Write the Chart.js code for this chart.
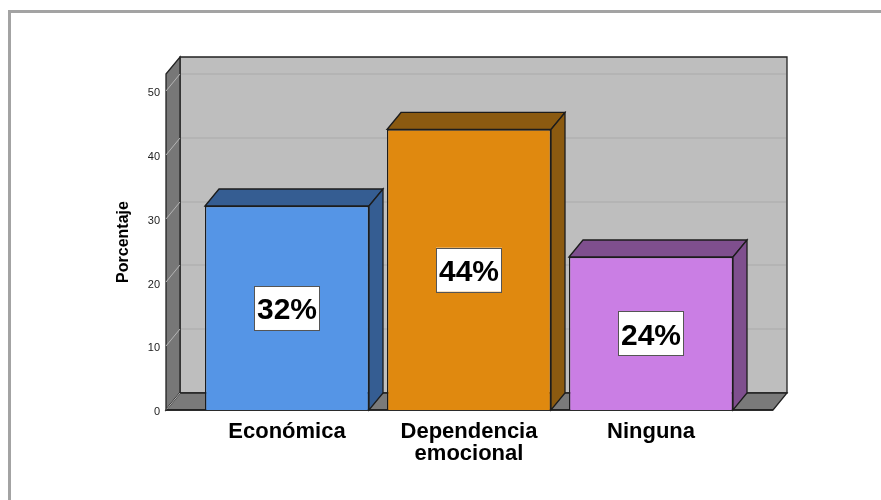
<!DOCTYPE html>
<html>
<head>
<meta charset="utf-8">
<style>html,body{margin:0;padding:0;background:#fff}canvas{display:block}</style>
<script src="https://cdn.jsdelivr.net/npm/chart.js@4"></script>
</head>
<body>
<canvas id="c" width="881" height="500"></canvas>
<script>
const categories = ['Económica', ['Dependencia', 'emocional'], 'Ninguna'];
const values = [32, 44, 24];
const valueLabels = ['32%', '44%', '24%'];
const frontColors = ['#5595e6', '#e0890f', '#ca7ee4'];
const sideColors = ['#355d92', '#8b5a10', '#7f4f8e'];
const yMax = 52.7;
const depthX = 14, depthY = 17, wallL = 30, wallR = 31;
const edge = '#1c1c1c';

function poly(ctx, pts, fill, stroke, lw) {
  ctx.beginPath();
  pts.forEach((p, i) => i ? ctx.lineTo(p[0], p[1]) : ctx.moveTo(p[0], p[1]));
  ctx.closePath();
  ctx.fillStyle = fill; ctx.fill();
  if (stroke) { ctx.strokeStyle = stroke; ctx.lineWidth = lw; ctx.stroke(); }
}

const scene = {
  id: 'scene',
  beforeDraw(chart) {
    const { ctx, chartArea: a, scales: { y } } = chart;
    const L = a.left - wallL, R = a.right + wallR, T = a.top, B = a.bottom;
    ctx.save();
    ctx.fillStyle = '#a3a3a3';
    ctx.fillRect(8, 10, 873, 3);
    ctx.fillRect(8, 10, 3, 490);
    poly(ctx, [[L + depthX, T - depthY], [R + depthX, T - depthY], [R + depthX, B - depthY], [L + depthX, B - depthY]], '#bebebe', '#222', 1.3);
    poly(ctx, [[L, T], [L + depthX, T - depthY], [L + depthX, B - depthY], [L, B]], '#777777', '#222', 1.3);
    poly(ctx, [[L, B], [L + depthX, B - depthY], [R + depthX, B - depthY], [R, B]], '#7a7a7a', '#222', 1.3);
    y.ticks.forEach(t => {
      const py = Math.round(y.getPixelForValue(t.value));
      if (t.value > 0) {
        ctx.strokeStyle = '#b0b0b0'; ctx.lineWidth = 1.5;
        ctx.beginPath(); ctx.moveTo(L + depthX + 1, py - depthY); ctx.lineTo(R + depthX - 1, py - depthY); ctx.stroke();
      }
      ctx.strokeStyle = '#b4b4b4'; ctx.lineWidth = 1;
      ctx.beginPath(); ctx.moveTo(L, py); ctx.lineTo(L + depthX, py - depthY); ctx.stroke();
    });
    ctx.strokeStyle = edge; ctx.lineWidth = 1.5;
    ctx.beginPath(); ctx.moveTo(L, B); ctx.lineTo(R, B); ctx.stroke();
    ctx.restore();
  },
  beforeDatasetsDraw(chart) {
    const { ctx } = chart;
    ctx.save();
    chart.getDatasetMeta(0).data.forEach((el, i) => {
      const l = el.x - el.width / 2, r = el.x + el.width / 2, t = el.y, b = el.base;
      poly(ctx, [[l, t], [l + depthX, t - depthY], [r + depthX, t - depthY], [r, t]], sideColors[i], edge, 1.3);
      poly(ctx, [[r, t], [r + depthX, t - depthY], [r + depthX, b - depthY], [r, b]], sideColors[i], edge, 1.3);
    });
    ctx.restore();
  },
  afterDatasetsDraw(chart) {
    const { ctx } = chart;
    ctx.save();
    ctx.font = 'bold 30px "Liberation Sans", Arial, sans-serif';
    ctx.textAlign = 'center';
    ctx.textBaseline = 'middle';
    chart.getDatasetMeta(0).data.forEach((el, i) => {
      const cx = el.x, cy = (el.y + el.base) / 2;
      ctx.fillStyle = '#ffffff';
      ctx.fillRect(cx - 33, cy - 22, 66, 44);
      ctx.strokeStyle = '#555'; ctx.lineWidth = 1;
      ctx.strokeRect(Math.round(cx - 33) + .5, Math.round(cy - 22) + .5, 65, 44);
      ctx.fillStyle = '#000';
      ctx.fillText(valueLabels[i], cx, cy + 3);
    });
    ctx.restore();
  }
};

new Chart(document.getElementById('c'), {
  type: 'bar',
  data: {
    labels: categories,
    datasets: [{
      label: 'Porcentaje',
      data: values,
      backgroundColor: frontColors,
      borderColor: edge,
      borderWidth: 1.3,
      barPercentage: 164 / 182,
      categoryPercentage: 1
    }]
  },
  options: {
    responsive: false,
    animation: false,
    layout: { padding: { left: 96, right: 139, top: 74, bottom: 20 } },
    plugins: { legend: { display: false }, tooltip: { enabled: false } },
    scales: {
      x: {
        afterFit(s) { s.height = 70; },
        grid: { display: false, drawTicks: false },
        border: { display: false },
        ticks: {
          autoSkip: false, maxRotation: 0, minRotation: 0, padding: 11, color: '#000',
          font: { family: '"Liberation Sans", Arial, sans-serif', size: 22, weight: 'bold', lineHeight: 1 }
        }
      },
      y: {
        min: 0, max: yMax,
        afterFit(s) { s.width = 100; },
        afterBuildTicks(s) { s.ticks = s.ticks.filter(t => t.value % 10 === 0); },
        afterUpdate(s) {
          if (s._shifted) return;
          s._shifted = true;
          const draw = s.drawLabels;
          s.drawLabels = function (area) {
            s.ctx.save();
            s.ctx.translate(0, 2);
            draw.call(s, area);
            s.ctx.restore();
          };
        },
        grid: { display: false, drawTicks: false },
        border: { display: false },
        ticks: {
          stepSize: 10, padding: 36, color: '#222',
          font: { family: '"Liberation Sans", Arial, sans-serif', size: 11 }
        },
        title: {
          display: true, text: 'Porcentaje', color: '#000',
          padding: { top: 18, bottom: 0 },
          font: { family: '"Liberation Sans", Arial, sans-serif', size: 16, weight: 'bold' }
        }
      }
    }
  },
  plugins: [scene]
});
</script>
</body>
</html>
